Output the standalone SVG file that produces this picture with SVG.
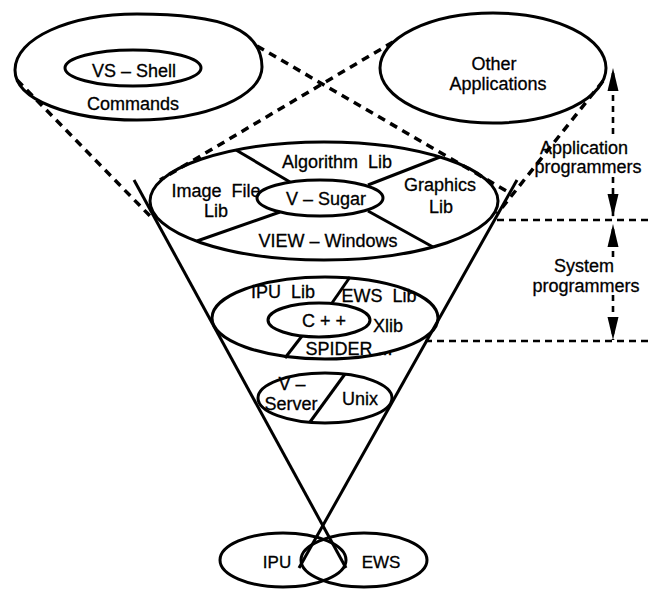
<svg xmlns="http://www.w3.org/2000/svg" width="653" height="589" viewBox="0 0 653 589">
<style>
.o{fill:none;stroke:#000;stroke-width:3}
.d{fill:none;stroke:#000;stroke-width:3.5;stroke-dasharray:8 6}
.h{fill:none;stroke:#000;stroke-width:2.6;stroke-dasharray:7 5}
.v{fill:none;stroke:#000;stroke-width:2.6;stroke-dasharray:6 5}
text{font-family:"Liberation Sans",Arial,Helvetica,sans-serif;font-size:18px;fill:#000;text-anchor:middle;white-space:pre;stroke:#000;stroke-width:0.3}
.s{font-size:17px}
</style>
<defs>
<marker id="ah" markerUnits="userSpaceOnUse" markerWidth="24" markerHeight="12" refX="23" refY="6" orient="auto">
<path d="M0,0.5 L23,6 L0,11.5 z" fill="#000"/>
</marker>
</defs>
<rect width="653" height="589" fill="#fff"/>
<g id="connectors">
<path class="d" d="M17,80 L150,216"/>
<path class="d" d="M257,46 L510,193"/>
<path class="d" d="M393,42 L160,180"/>
<path class="d" d="M603,81 L497,214"/>
<path class="o" d="M134,180 L346,568"/>
<path class="o" d="M517,180 L299,568"/>
<path class="h" d="M497,220 L653,220"/>
<path class="h" d="M425,341 L653,341"/>
<path class="v" d="M613,134 L613,68" marker-end="url(#ah)"/>
<path class="v" d="M613,177 L613,217" marker-end="url(#ah)"/>
<path class="v" d="M613,257 L613,224" marker-end="url(#ah)"/>
<path class="v" d="M613,295 L613,340" marker-end="url(#ah)"/>
</g>
<g id="vs-shell-commands">
<path class="o" d="M15,70 C15,38 70,14 137,14 C224,14 262,30 262,67 C262,96 207,120 137,120 C70,120 15,100 15,70 Z"/>
<ellipse class="o" cx="133" cy="68" rx="68" ry="18"/>
<text x="134" y="77">VS – Shell</text>
<text x="133" y="110">Commands</text>
</g>
<g id="other-applications">
<ellipse class="o" cx="493" cy="68" rx="113" ry="55"/>
<text x="494" y="70">Other</text>
<text x="498" y="90">Applications</text>
</g>
<g id="application-programmers">
<text x="584" y="154">Application</text>
<text x="588" y="173">programmers</text>
</g>
<g id="system-programmers">
<text x="584" y="272">System</text>
<text x="586" y="292">programmers</text>
</g>
<g id="v-sugar-level">
<ellipse class="o" cx="324" cy="201" rx="174" ry="59"/>
<ellipse class="o" cx="320" cy="198" rx="63" ry="18"/>
<path class="o" d="M236,150 L290,182"/>
<path class="o" d="M440,157 L368,185"/>
<path class="o" d="M280,212 L197,241"/>
<path class="o" d="M368,211 L433,247"/>
<text x="337" y="168">Algorithm  Lib</text>
<text x="216" y="197">Image  File</text>
<text x="216" y="217">Lib</text>
<text x="326" y="205">V – Sugar</text>
<text x="440" y="191">Graphics</text>
<text x="441" y="213">Lib</text>
<text x="328" y="247">VIEW – Windows</text>
</g>
<g id="cpp-level">
<ellipse class="o" cx="325" cy="318" rx="113" ry="41"/>
<ellipse class="o" cx="319" cy="320" rx="51" ry="17"/>
<path class="o" d="M350,277 L332,303"/>
<path class="o" d="M302,336 L285,358"/>
<text x="283" y="298">IPU  Lib</text>
<text x="379" y="302">EWS  Lib</text>
<text x="324" y="327">C + +</text>
<text x="388" y="332">Xlib</text>
<text x="349" y="355">SPIDER ...</text>
</g>
<g id="v-server-unix">
<ellipse class="o" cx="325" cy="398" rx="67" ry="25"/>
<path class="o" d="M345,374 L310,422"/>
<text x="292" y="390">V –</text>
<text x="291" y="410">Server</text>
<text x="360" y="405">Unix</text>
</g>
<g id="ipu">
<ellipse class="o" cx="283" cy="560" rx="63" ry="27"/>
<text class="s" x="277" y="568">IPU</text>
</g>
<g id="ews">
<ellipse class="o" cx="364" cy="560" rx="63" ry="27"/>
<text class="s" x="381" y="568">EWS</text>
</g>
</svg>
